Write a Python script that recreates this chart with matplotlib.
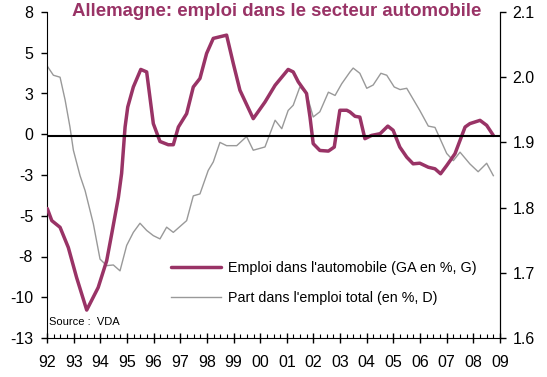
import matplotlib
matplotlib.use("Agg")
import matplotlib.pyplot as plt
import numpy as np

plt.rcParams['font.family'] = ['Liberation Sans', 'DejaVu Sans']

# Emploi dans l'automobile (glissement annuel, %, axe gauche)
emp_t = [1992.01, 1992.18, 1992.49, 1992.80, 1993.11, 1993.49, 1993.92, 1994.24,
         1994.43, 1994.68, 1994.80, 1994.93, 1995.03, 1995.24, 1995.52, 1995.74,
         1995.99, 1996.24, 1996.55, 1996.74, 1996.93, 1997.24, 1997.49, 1997.74,
         1997.99, 1998.24, 1998.74, 1998.99, 1999.24, 1999.74, 2000.18, 2000.56,
         2001.05, 2001.24, 2001.43, 2001.74, 2001.87, 2001.99, 2002.24, 2002.56,
         2002.78, 2002.99, 2003.25, 2003.37, 2003.56, 2003.74, 2003.93, 2004.18,
         2004.50, 2004.79, 2004.99, 2005.24, 2005.50, 2005.74, 2005.99, 2006.31,
         2006.56, 2006.77, 2007.00, 2007.31, 2007.69, 2007.87, 2008.25, 2008.50,
         2008.75]
emp_v = [-4.66, -5.44, -5.87, -7.17, -9.10, -11.2, -9.75, -8.02,
         -6.28, -3.93, -2.40, 0.59, 1.88, 3.17, 4.30, 4.14,
         0.81, -0.34, -0.55, -0.55, 0.59, 1.45, 3.17, 3.72,
         5.33, 6.30, 6.51, 4.69, 2.96, 1.13, 2.20, 3.28,
         4.30, 4.14, 3.50, 2.75, 1.23, -0.48, -0.92, -0.96,
         -0.70, 1.67, 1.67, 1.56, 1.28, 1.23, -0.16, 0.05,
         0.16, 0.65, 0.38, -0.70, -1.35, -1.78, -1.74, -2.00,
         -2.10, -2.42, -1.89, -1.13, 0.59, 0.81, 1.02, 0.70,
         0.05]

# Part dans l'emploi total (%, axe droit)
part_t = [1992.01, 1992.24, 1992.49, 1992.68, 1992.86, 1992.99, 1993.24, 1993.43,
          1993.74, 1993.99, 1994.24, 1994.49, 1994.74, 1994.99, 1995.24, 1995.49,
          1995.74, 1995.99, 1996.24, 1996.49, 1996.74, 1997.24, 1997.49, 1997.74,
          1998.05, 1998.24, 1998.49, 1998.74, 1999.12, 1999.49, 1999.74, 2000.18,
          2000.30, 2000.56, 2000.81, 2001.05, 2001.24, 2001.49, 2001.74, 2001.99,
          2002.24, 2002.56, 2002.81, 2003.06, 2003.37, 2003.49, 2003.74, 2004.00,
          2004.24, 2004.53, 2004.75, 2005.03, 2005.25, 2005.50, 2005.99, 2006.31,
          2006.56, 2007.00, 2007.25, 2007.50, 2007.87, 2008.18, 2008.50, 2008.75]
part_v = [2.017, 2.003, 2.000, 1.965, 1.924, 1.888, 1.849, 1.826,
          1.775, 1.721, 1.711, 1.712, 1.703, 1.742, 1.762, 1.776,
          1.765, 1.757, 1.752, 1.770, 1.762, 1.780, 1.818, 1.821,
          1.857, 1.870, 1.900, 1.895, 1.895, 1.909, 1.888, 1.893,
          1.906, 1.934, 1.921, 1.949, 1.957, 1.985, 1.975, 1.939,
          1.947, 1.977, 1.972, 1.990, 2.008, 2.014, 2.006, 1.983,
          1.988, 2.006, 2.003, 1.985, 1.981, 1.983, 1.949, 1.925,
          1.923, 1.883, 1.872, 1.885, 1.867, 1.855, 1.868, 1.849]

years = list(range(1992, 2010))
year_labels = ['%02d' % (y % 100) for y in years]
left_labels = ['-13', '-10', '-8', '-5', '-3', '0', '3', '5', '8']
right_labels = ['1.6', '1.7', '1.8', '1.9', '2.0', '2.1']

purple = '#993366'
grey = '#999999'

fig = plt.figure(figsize=(5.47, 3.77), dpi=100)
ax = fig.add_axes([47 / 547, 39 / 377, 453 / 547, 326 / 377])
ax2 = ax.twinx()

l1, = ax.plot(emp_t, emp_v, color=purple, lw=2.5, zorder=4,
              solid_capstyle='round', solid_joinstyle='round')
l2, = ax2.plot(part_t, part_v, color=grey, lw=1.0)
ax.axhline(0, color='black', lw=1.5, zorder=5)

ax.set_zorder(ax2.get_zorder() + 1)
ax.patch.set_visible(False)

ax.set_xlim(1992, 2009)
ax.set_ylim(-13, 8)
ax2.set_ylim(1.6, 2.1)

ax.set_yticks(np.linspace(-13, 8, 9))
ax.set_yticklabels(left_labels)
ax2.set_yticks(np.linspace(1.6, 2.1, 6))
ax2.set_yticklabels(right_labels)

ax.set_xticks(years)
ax.set_xticklabels(year_labels)
ax.set_xticks(np.arange(1992, 2009, 0.25), minor=True)

for a in (ax, ax2):
    a.spines['top'].set_visible(False)
ax2.spines['left'].set_visible(False)
ax2.spines['bottom'].set_visible(False)

ax.tick_params(axis='x', which='major', direction='inout', length=7, width=1,
               pad=9, labelsize=11.5)
ax.tick_params(axis='x', which='minor', direction='in', length=3, width=0.8)
ax.tick_params(axis='y', direction='out', length=4, width=1, pad=6, labelsize=11.5)
ax2.tick_params(axis='y', direction='out', length=4, width=1, pad=5, labelsize=11.5)

ax.text(0.005, 0.035, 'Source :  VDA', transform=ax.transAxes, fontsize=8,
        ha='left', va='bottom')

fig.legend([l1, l2],
           ["Emploi dans l'automobile (GA en %, G)",
            "Part dans l'emploi total (en %, D)"],
           loc='center left', bbox_to_anchor=(171 / 547, 1 - 283 / 377),
           frameon=False, fontsize=10.3, handlelength=3.5, handletextpad=0.5,
           labelspacing=1.05, borderpad=0, borderaxespad=0)

fig.text(277 / 547, 1 - 11 / 377, 'Allemagne: emploi dans le secteur automobile',
         ha='center', va='center', fontsize=13.4, fontweight='bold', color=purple)

fig.savefig('out.png', dpi=100)
